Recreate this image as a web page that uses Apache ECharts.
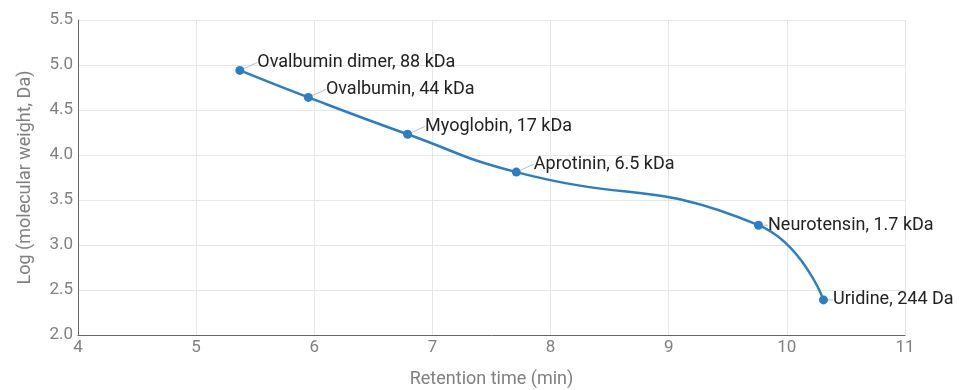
<!DOCTYPE html>
<html>
<head>
<meta charset="utf-8">
<script src="https://cdn.jsdelivr.net/npm/echarts@6/dist/echarts.min.js"></script>
<style>
  html, body { margin: 0; padding: 0; background: #fff; }
  #chart { width: 975px; height: 390px; }
</style>
</head>
<body>
<div id="chart"></div>
<script>
// Calibration standards: retention time vs log10 of molecular weight
const standards = ['Ovalbumin dimer, 88 kDa', 'Ovalbumin, 44 kDa', 'Myoglobin, 17 kDa', 'Aprotinin, 6.5 kDa', 'Neurotensin, 1.7 kDa', 'Uridine, 244 Da'];
const retentionTimes = [5.37, 5.95, 6.79, 7.71, 9.76, 10.31];
const logWeights = [4.94, 4.64, 4.23, 3.81, 3.22, 2.39];
const xTicks = [4, 5, 6, 7, 8, 9, 10, 11];
const yTicks = [2.0, 2.5, 3.0, 3.5, 4.0, 4.5, 5.0, 5.5];

// Labels of the first four standards sit up-right with a short leader line
const leaderLabels = [true, true, true, true, false, false];

const chart = echarts.init(document.getElementById('chart'));
const font = 'Roboto, "Noto Sans", sans-serif';

chart.setOption({
  animation: false,
  grid: { left: 78, right: 70, top: 20, bottom: 55, outerBoundsMode: 'none', containLabel: false },
  xAxis: {
    type: 'value',
    min: xTicks[0], max: xTicks[xTicks.length - 1], interval: 1,
    name: 'Retention time (min)',
    nameLocation: 'middle', nameGap: 35,
    nameTextStyle: { color: '#808080', fontSize: 18, fontFamily: font },
    axisLine: { show: true, lineStyle: { color: '#666', width: 1 } },
    axisTick: { show: false },
    axisLabel: { color: '#808080', fontSize: 17, fontFamily: font, margin: 4 },
    splitLine: { show: true, lineStyle: { color: '#e6e6e6' } }
  },
  yAxis: {
    type: 'value',
    min: yTicks[0], max: yTicks[yTicks.length - 1], interval: 0.5,
    name: 'Log (molecular weight, Da)',
    nameLocation: 'middle', nameGap: 44,
    nameTextStyle: { color: '#808080', fontSize: 18, fontFamily: font },
    axisLine: { show: true, lineStyle: { color: '#666', width: 1 } },
    axisTick: { show: false },
    axisLabel: { color: '#808080', fontSize: 17, fontFamily: font, margin: 5,
      formatter: v => v.toFixed(1) },
    splitLine: { show: true, lineStyle: { color: '#e6e6e6' } }
  },
  series: [{
    type: 'line',
    smooth: 0.5,
    data: retentionTimes.map((t, i) => ({ value: [t, logWeights[i]], name: standards[i] })),
    symbol: 'circle',
    symbolSize: 9,
    lineStyle: { color: '#2a7ec6', width: 2.5 },
    itemStyle: { color: '#2a7ec6' },
    label: {
      show: true,
      position: 'right',
      distance: 5,
      formatter: p => p.name,
      color: '#222',
      fontSize: 18,
      fontFamily: font
    },
    labelLine: { show: true, lineStyle: { color: '#bbb', width: 1 }, smooth: 0.3 },
    labelLayout: p => leaderLabels[p.dataIndex] ? { dx: 8, dy: -8 } : {}
  }]
});
</script>
</body>
</html>
